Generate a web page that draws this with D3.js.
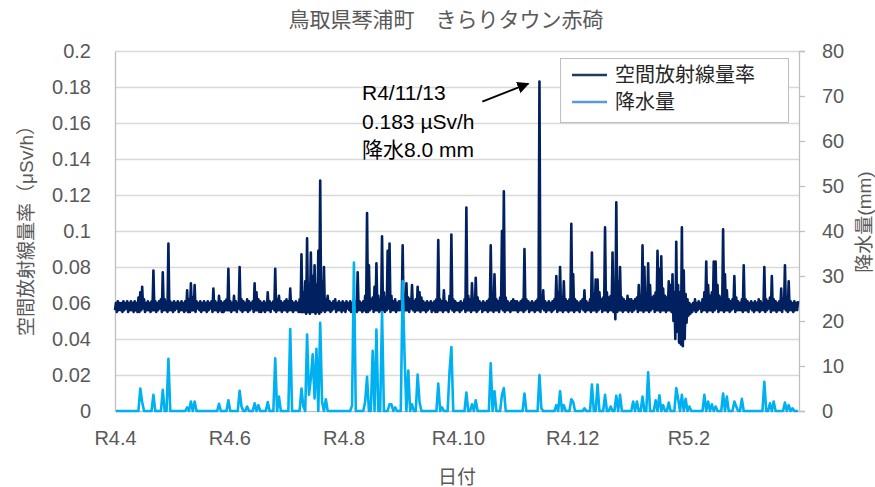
<!DOCTYPE html>
<html>
<head>
<meta charset="utf-8">
<script src="https://cdn.jsdelivr.net/npm/d3@7"></script>
<style>
  body { margin: 0; background: #fff; }
  text { font-family: "Liberation Sans", "Noto Sans CJK JP", sans-serif; }
</style>
</head>
<body>
<div id="chart"></div>
<script>

// daily max of the air dose rate, in 0.001 uSv/h (R4.4.1 - R5.3.31)
var doseHigh = [
  // Apr
  60,61,60,60,61,60,61,60,61,60, 61,60,63,66,69,62,60,61,60,61, 78,61,60,61,62,77,62,61,93,61,
  // May
  60,61,60,61,60,61,60,61,67,62, 71,63,70,61,60,61,60,61,60,61, 60,61,68,61,60,64,61,60,61,62, 79,
  // Jun
  61,60,64,61,60,80,62,61,60,62, 61,60,61,71,66,62,61,60,61,60, 66,61,60,61,79,62,64,61,60,61,
  // Jul
  62,61,68,61,60,61,60,62,87,66, 72,96,70,88,75,81,70,89,128,72, 80,62,64,61,60,61,62,60,61,60, 61,
  // Aug
  60,61,60,61,60,62,61,77,61,60, 61,64,110,81,62,63,69,82,64,62, 97,66,63,89,93,64,61,62,60,61, 61,
  // Sep
  92,65,71,63,62,70,61,62,69,66, 63,61,60,61,60,61,60,61,62,95, 62,61,67,61,60,64,98,62,61,60,
  // Oct
  60,61,60,62,113,64,62,71,62,74, 63,61,60,61,60,61,62,92,64,76, 62,61,63,100,122,63,61,60,61,62, 61,
  // Nov
  61,60,61,62,90,62,61,60,61,60, 61,62,183,62,67,61,60,61,60,61, 62,75,66,80,63,72,62,61,62,104,
  // Dec
  76,62,61,60,61,62,67,61,60,62, 88,65,73,73,66,62,63,102,66,63, 64,88,70,116,72,80,63,62,61,64, 62,
  // Jan
  62,61,62,63,70,64,92,80,65,82, 70,63,64,66,89,79,86,68,64,63, 72,70,76,66,94,70,66,102,78,65, 62,
  // Feb
  60,59,60,62,60,61,60,62,66,83, 70,64,66,83,83,70,64,63,101,76, 67,62,61,62,75,63,61,60,
  // Mar
  62,81,62,61,60,61,60,61,60,62, 61,60,80,62,61,63,75,62,61,60, 61,68,62,81,63,72,61,60,61,60, 61
];

// daily min of the air dose rate, in 0.001 uSv/h
var doseLow = [
  // Apr
  56,55,56,56,55,56,57,55,56,56, 55,56,55,55,56,57,55,56,56,55, 56,56,55,56,57,55,56,56,55,56,
  // May
  56,55,56,57,55,56,56,55,56,55, 55,56,56,55,57,56,55,56,56,55, 56,57,55,56,56,55,56,55,55,56, 56,
  // Jun
  56,55,56,56,55,57,56,55,56,56, 55,56,57,55,56,56,55,55,56,55, 56,56,55,57,56,55,56,56,55,56,
  // Jul
  56,55,56,56,55,56,56,55,55,55, 55,54,55,54,55,55,54,55,54,55, 56,55,56,56,55,56,57,55,56,56, 55,
  // Aug
  56,55,57,56,55,56,56,55,56,56, 55,56,55,55,56,57,55,56,56,55, 56,56,55,56,57,55,56,56,55,56, 56,
  // Sep
  56,55,56,56,55,57,56,55,56,56, 55,56,56,55,56,57,55,56,55,55, 56,56,55,56,56,55,57,56,55,56,
  // Oct
  56,55,56,57,55,56,56,55,56,56, 55,56,57,55,56,56,55,56,56,55, 56,56,55,57,56,55,56,56,55,56, 56,
  // Nov
  56,55,56,56,55,56,57,55,56,56, 55,56,56,55,57,56,55,56,56,55, 56,57,55,56,56,55,56,56,55,56,
  // Dec
  56,55,56,56,55,57,56,55,56,56, 55,56,56,55,56,57,55,56,56,55, 56,56,55,51,55,56,56,55,56,56, 55,
  // Jan
  56,55,56,57,55,56,56,55,56,56, 55,56,57,55,56,56,55,56,56,55, 56,56,55,50,40,44,38,37,36,40, 49,
  // Feb
  53,54,55,56,55,56,57,55,56,56, 55,56,56,55,56,57,55,56,56,55, 56,56,55,56,57,55,56,56,
  // Mar
  56,55,56,56,55,57,56,55,56,56, 55,56,56,55,56,57,55,56,56,55, 56,56,55,57,56,55,56,56,55,56, 56
];

// daily peak hourly precipitation (mm)
var rainfall = [
  // Apr
  0,0,0,0,0,0,0,0,0,0, 0,0,0,5,2,0,0,0,0,0, 3.6,0,0,0,0,4.7,0,0,11.6,0,
  // May
  0,0,0,0,0,0,0,0,0.8,0, 2.1,0,2.1,0,0,0,0,0,0,0, 0,0,0,0,0,1.6,0,0,0,0, 2.4,
  // Jun
  0,0,0,0,0,4.5,1,0,0,1, 0,0,0,1.7,0,1.3,0,0,0,0, 2,0,0,0,11.7,0,3.2,0,0,0,
  // Jul
  0,0,18.2,0,0,0,0,0,5,1, 0,17,3.6,7.2,12.6,2.8,13.8,0,19.6,2, 0,2.6,0,0,0,0,0,0,0,0, 0,
  // Aug
  0,0,0,0,1.2,33,0,0,0,0, 0,2.1,7.6,0,0,13.4,0,18.1,0,0, 22,0,0,0,1.5,1.5,0,0.8,0,0, 0,
  // Sep
  28.9,12.4,0,9,0,1.5,0,0,8.1,2, 0,0,0,0,0,0,0,0,0,6.1, 0,0.8,0,0,0,8.7,14.2,0,0,0,
  // Oct
  0,0,0,0,4.1,0,0,1.5,0,2.4, 0,0,0,0,0,0,0,10.6,0,4.4, 0,0,0,3.6,5.1,0,0,0,0,0, 0,
  // Nov
  0,0,0,0,3.9,0,0,0,0,0, 0,0,8,0.6,0,0,0,0,0,0, 0,1.3,0,4.4,0,1.3,0,0,0,2.6,
  // Dec
  2,0,0,0,0,0,0.6,0,0,0, 5.9,0,0,5.9,0,0,0,3.6,0,0, 1,0,0,3.4,0,3.6,0,0,0,0, 0,
  // Jan
  0,2.1,0,2.1,0,0,3.2,0,0,8.6, 0,0,0,2.4,0,3.5,0,1.3,0,0, 1.9,0,0,0,5.1,2.7,0,3.6,0,2.7, 0,
  // Feb
  1,0,0,0,0,0,0,0,3.6,0, 2.1,0,1.5,0,1,0,0,0,3.9,0, 3.2,0,0,0,2.1,1,0,0,
  // Mar
  2.7,0,0,0,0,0,0,0,0,0, 0,0,6.5,0,0,1.7,0,2.1,0,0, 0,0,0,1.9,0,1.3,0,0.6,0,0, 0
];

var startDate = new Date(2022, 3, 1);
var endDate = new Date(2023, 3, 1);

var xTickDates = [new Date(2022, 3, 1), new Date(2022, 5, 1), new Date(2022, 7, 1),
                  new Date(2022, 9, 1), new Date(2022, 11, 1), new Date(2023, 1, 1)];
var xTickLabels = ["R4.4", "R4.6", "R4.8", "R4.10", "R4.12", "R5.2"];
var doseTicks = [0, 0.02, 0.04, 0.06, 0.08, 0.1, 0.12, 0.14, 0.16, 0.18, 0.2];
var rainTicks = [0, 10, 20, 30, 40, 50, 60, 70, 80];

var noteLines = ["R4/11/13", "0.183 \u00b5Sv/h", "降水8.0 mm"];
var noteDate = new Date(2022, 10, 13, 10);
var noteValue = 0.183;

// set the dimensions and margins of the graph
var margin = {top: 51, right: 76, bottom: 76, left: 115},
    width = 875 - margin.left - margin.right,
    height = 487 - margin.top - margin.bottom;

var textColor = "#595959";

// set the ranges
var x = d3.scaleTime().domain([startDate, endDate]).range([0, width]);
var yDose = d3.scaleLinear().domain([0, 0.2]).range([height, 0]);
var yRain = d3.scaleLinear().domain([0, 80]).range([height, 0]);

// build the points: daily min at 0:00, daily max at 12:00
var dosePoints = [];
doseHigh.forEach(function(hi, i) {
  var day = d3.timeDay.offset(startDate, i);
  dosePoints.push({date: day, value: doseLow[i] / 1000});
  dosePoints.push({date: d3.timeHour.offset(day, 12), value: hi / 1000});
});
var rainPoints = rainfall.map(function(v, i) {
  return {date: d3.timeHour.offset(d3.timeDay.offset(startDate, i), 12), value: v};
});

var svg = d3.select("#chart").append("svg")
    .attr("width", 875)
    .attr("height", 487);

svg.append("rect").attr("width", 875).attr("height", 487).attr("fill", "#fff");

var g = svg.append("g")
    .attr("transform", "translate(" + margin.left + "," + margin.top + ")");

// gridlines
g.selectAll(".grid")
    .data(doseTicks)
  .enter().append("line")
    .attr("class", "grid")
    .attr("x1", 0)
    .attr("x2", width)
    .attr("y1", function(d) { return Math.round(yDose(d)) + 0.5; })
    .attr("y2", function(d) { return Math.round(yDose(d)) + 0.5; })
    .attr("stroke", "#d9d9d9")
    .attr("stroke-width", 1.3);

// Left axis
var leftAxis = g.append("g")
    .call(d3.axisLeft(yDose)
        .tickValues(doseTicks)
        .tickSize(0)
        .tickPadding(24)
        .tickFormat(function(d) { return String(+d.toFixed(2)); }));
leftAxis.select(".domain").attr("stroke", "#bfbfbf").attr("stroke-width", 1.3);
leftAxis.selectAll("text").attr("fill", textColor).style("font-size", "20px");

// Right axis
var rightAxis = g.append("g")
    .attr("transform", "translate(" + width + ",0)")
    .call(d3.axisRight(yRain)
        .tickValues(rainTicks)
        .tickSize(6)
        .tickSizeOuter(6)
        .tickPadding(17));
rightAxis.selectAll("line, .domain").attr("stroke", "#bfbfbf").attr("stroke-width", 1.3);
rightAxis.selectAll("text").attr("fill", textColor).style("font-size", "20px");

// X axis
var bottomAxis = g.append("g")
    .attr("transform", "translate(0," + height + ")")
    .call(d3.axisBottom(x)
        .tickValues(xTickDates)
        .tickSize(0)
        .tickPadding(20)
        .tickFormat(function(d, i) { return xTickLabels[i]; }));
bottomAxis.select(".domain").attr("stroke", "#bfbfbf");
bottomAxis.selectAll("text").attr("fill", textColor).style("font-size", "20px");

// dose rate line
var doseLine = d3.line()
    .x(function(d) { return x(d.date); })
    .y(function(d) { return yDose(d.value); });

g.append("path")
    .datum(dosePoints)
    .attr("fill", "none")
    .attr("stroke", "#002060")
    .attr("stroke-width", 2.6)
    .attr("stroke-linejoin", "round")
    .attr("d", doseLine);

// rain line
var rainLine = d3.line()
    .x(function(d) { return x(d.date); })
    .y(function(d) { return yRain(d.value); });

g.append("path")
    .datum(rainPoints)
    .attr("fill", "none")
    .attr("stroke", "#00b0f0")
    .attr("stroke-width", 2.6)
    .attr("stroke-linejoin", "round")
    .attr("d", rainLine);

// title
svg.append("text")
    .attr("x", 446)
    .attr("y", 27)
    .attr("text-anchor", "middle")
    .attr("fill", textColor)
    .style("font-size", "21px")
    .text("鳥取県琴浦町　きらりタウン赤碕");

// text label for the y axis
svg.append("text")
    .attr("transform", "translate(33," + (margin.top + height / 2 - 5) + ") rotate(-90)")
    .attr("text-anchor", "middle")
    .attr("fill", textColor)
    .style("font-size", "19px")
    .text("空間放射線量率（μSv/h）");

svg.append("text")
    .attr("transform", "translate(871," + (margin.top + height / 2 - 9) + ") rotate(-90)")
    .attr("text-anchor", "middle")
    .attr("fill", textColor)
    .style("font-size", "19px")
    .text("降水量(mm)");

svg.append("text")
    .attr("x", 457)
    .attr("y", 484)
    .attr("text-anchor", "middle")
    .attr("fill", textColor)
    .style("font-size", "19px")
    .text("日付");

// legend
var legend = svg.append("g").attr("transform", "translate(560,58)");
legend.append("rect")
    .attr("x", 0.5).attr("y", 0.5)
    .attr("width", 228).attr("height", 64)
    .attr("fill", "#fff")
    .attr("stroke", "#bfbfbf");
var legendItems = [
  {label: "空間放射線量率", color: "#203864"},
  {label: "降水量", color: "#5b9bd5"}
];
legendItems.forEach(function(d, i) {
  var yy = 17 + i * 27;
  legend.append("line")
      .attr("x1", 12).attr("x2", 47)
      .attr("y1", yy).attr("y2", yy)
      .attr("stroke", d.color)
      .attr("stroke-width", 2.6);
  legend.append("text")
      .attr("x", 55)
      .attr("y", yy + 7)
      .attr("fill", "#262626")
      .style("font-size", "20px")
      .text(d.label);
});

// annotation for the highest value
var defs = svg.append("defs");
defs.append("marker")
    .attr("id", "arrow")
    .attr("viewBox", "0 0 10 10")
    .attr("refX", 9)
    .attr("refY", 5)
    .attr("markerWidth", 6)
    .attr("markerHeight", 6)
    .attr("orient", "auto")
  .append("path")
    .attr("d", "M0,0L10,5L0,10z")
    .attr("fill", "#000");

var px = margin.left + x(noteDate);
var py = margin.top + yDose(noteValue);
svg.append("line")
    .attr("x1", px - 57).attr("y1", py + 20)
    .attr("x2", px - 11).attr("y2", py + 2)
    .attr("stroke", "#000")
    .attr("stroke-width", 2)
    .attr("marker-end", "url(#arrow)");

noteLines.forEach(function(t, i) {
  svg.append("text")
      .attr("x", 362)
      .attr("y", 100 + i * 28.5)
      .attr("fill", "#000")
      .style("font-size", "21px")
      .text(t);
});

</script>
</body>
</html>
